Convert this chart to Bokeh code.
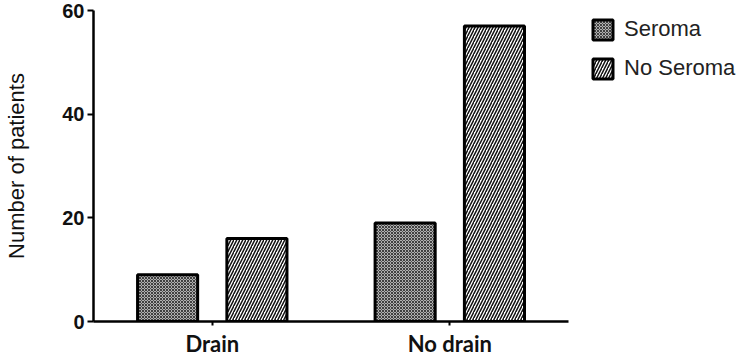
from bokeh.plotting import figure
from bokeh.models import Range1d, FixedTicker, Legend, LegendItem, ColumnDataSource
from bokeh.embed import file_html
from bokeh.resources import INLINE

groups = ["Drain", "No drain"]
series = ["Seroma", "No Seroma"]
seroma = [9, 19]
no_seroma = [16, 57]
y_ticks = [0, 20, 40, 60]

xc = [i + 1 for i in range(len(groups))]
off = 0.188
bw = 0.253

p = figure(width=750, height=359, output_backend="svg", toolbar_location=None,
           x_range=Range1d(0.5, 3.266), y_range=Range1d(0, 60),
           min_border_left=93, min_border_right=0, min_border_top=10, min_border_bottom=34)
p.outline_line_color = None
p.grid.grid_line_color = None
p.background_fill_color = None
p.border_fill_color = "white"

s1 = ColumnDataSource(dict(x=[c - off for c in xc], top=seroma))
s2 = ColumnDataSource(dict(x=[c + off for c in xc], top=no_seroma))

r1 = p.vbar(x="x", top="top", width=bw, source=s1, fill_color="#b0b0b0",
            hatch_pattern="diagonal_cross", hatch_color="#404040", hatch_scale=3, hatch_weight=1,
            line_color="black", line_width=3)
r2 = p.vbar(x="x", top="top", width=bw, source=s2, fill_color="white",
            hatch_pattern="right_diagonal_line", hatch_color="#111111", hatch_scale=6, hatch_weight=1.5,
            line_color="black", line_width=3)

# axes
p.xaxis.bounds = (0.5, 2.5)
p.xaxis.ticker = FixedTicker(ticks=xc)
p.xaxis.major_label_overrides = {c: g for c, g in zip(xc, groups)}
p.xaxis.minor_tick_line_color = None
p.xaxis.major_tick_in = 0
p.xaxis.major_tick_out = 4
p.xaxis.major_tick_line_width = 2
p.xaxis.axis_line_width = 2.5
p.xaxis.major_label_text_font = "Lato"
p.xaxis.major_label_text_font_style = "bold"
p.xaxis.major_label_text_font_size = "22px"
p.xaxis.major_label_text_color = "#111111"
p.xaxis.major_label_standoff = 4

p.yaxis.ticker = FixedTicker(ticks=y_ticks)
p.yaxis.minor_tick_line_color = None
p.yaxis.major_tick_in = 0
p.yaxis.major_tick_out = 6
p.yaxis.major_tick_line_width = 2
p.yaxis.axis_line_width = 2.5
p.yaxis.major_label_text_font = "Liberation Sans"
p.yaxis.major_label_text_font_style = "bold"
p.yaxis.major_label_text_font_size = "20px"
p.yaxis.major_label_text_color = "#111111"
p.yaxis.major_label_standoff = 3
p.yaxis.axis_label = "Number of patients"
p.yaxis.axis_label_text_font = "Liberation Sans"
p.yaxis.axis_label_text_font_style = "normal"
p.yaxis.axis_label_text_font_size = "22px"
p.yaxis.axis_label_text_color = "#111111"
p.yaxis.axis_label_standoff = 30

legend = Legend(items=[LegendItem(label=series[0], renderers=[r1]),
                       LegendItem(label=series[1], renderers=[r2])],
                location=(497, 240), orientation="vertical",
                border_line_color=None, background_fill_color=None,
                padding=0, margin=0, spacing=13,
                glyph_width=25, glyph_height=25, label_height=25,
                label_standoff=9,
                label_text_font="Liberation Sans", label_text_font_size="22px",
                label_text_color="#222222")
p.add_layout(legend)

open("out.html", "w").write(file_html(p, INLINE))
